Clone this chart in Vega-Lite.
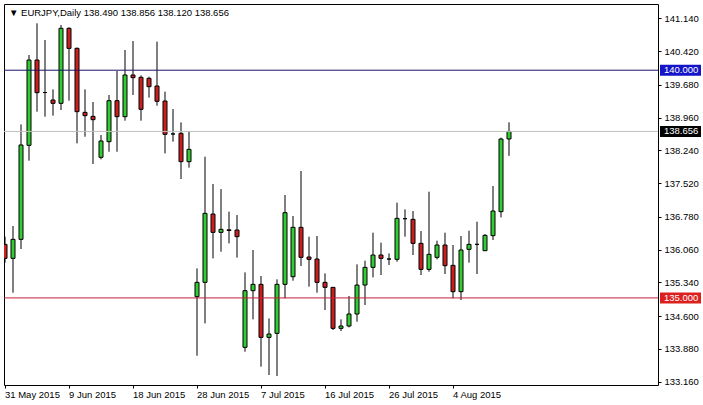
{
  "$schema": "https://vega.github.io/schema/vega-lite/v6.json",
  "width": 654,
  "height": 381,
  "autosize": {"type": "none"},
  "padding": {"left": 4, "top": 4, "right": 45, "bottom": 20},
  "background": "white",
  "config": {
    "view": {"stroke": "black", "strokeWidth": 1},
    "font": "Liberation Sans",
    "axis": {"domain": false, "grid": false, "labelFont": "Liberation Sans", "labelFontSize": 9.5, "labelColor": "black", "tickColor": "black", "tickSize": 3, "labelOverlap": false},
    "axisY": {"labelOverlap": false, "labelBound": false, "labelFlush": false}
  },
  "title": {"text": "▼  EURJPY,Daily  138.490 138.856 138.120 138.656", "anchor": "start", "frame": "group", "offset": -21, "baseline": "alphabetic", "dx": 5, "fontSize": 9.5, "fontWeight": "normal", "color": "black", "font": "Liberation Sans"},
  "datasets": {
    "candles": [
      {"date": "31 May 2015", "open": 136.176, "high": 136.345, "low": 135.774, "close": 135.869},
      {"date": "1 Jun 2015", "open": 135.869, "high": 136.579, "low": 135.115, "close": 136.286},
      {"date": "2 Jun 2015", "open": 136.286, "high": 138.811, "low": 136.074, "close": 138.358},
      {"date": "3 Jun 2015", "open": 138.351, "high": 140.334, "low": 138.014, "close": 140.224},
      {"date": "4 Jun 2015", "open": 140.224, "high": 141.030, "low": 139.090, "close": 139.507},
      {"date": "5 Jun 2015", "open": 139.510, "high": 140.663, "low": 138.980, "close": 139.510},
      {"date": "7 Jun 2015", "open": 139.346, "high": 139.580, "low": 139.002, "close": 139.273},
      {"date": "8 Jun 2015", "open": 139.273, "high": 140.993, "low": 139.126, "close": 140.920},
      {"date": "9 Jun 2015", "open": 140.920, "high": 140.942, "low": 139.331, "close": 140.480},
      {"date": "10 Jun 2015", "open": 140.480, "high": 140.500, "low": 138.394, "close": 139.090},
      {"date": "11 Jun 2015", "open": 139.075, "high": 139.580, "low": 138.540, "close": 139.002},
      {"date": "12 Jun 2015", "open": 138.987, "high": 139.302, "low": 137.940, "close": 138.914},
      {"date": "14 Jun 2015", "open": 138.087, "high": 138.577, "low": 138.043, "close": 138.446},
      {"date": "15 Jun 2015", "open": 138.431, "high": 139.456, "low": 138.211, "close": 139.331},
      {"date": "16 Jun 2015", "open": 139.331, "high": 139.983, "low": 138.211, "close": 138.980},
      {"date": "17 Jun 2015", "open": 138.980, "high": 140.444, "low": 138.892, "close": 139.895},
      {"date": "18 Jun 2015", "open": 139.895, "high": 140.641, "low": 139.456, "close": 139.836},
      {"date": "19 Jun 2015", "open": 139.844, "high": 139.887, "low": 138.892, "close": 139.141},
      {"date": "21 Jun 2015", "open": 139.822, "high": 139.858, "low": 139.397, "close": 139.639},
      {"date": "22 Jun 2015", "open": 139.653, "high": 140.627, "low": 139.221, "close": 139.317},
      {"date": "23 Jun 2015", "open": 139.324, "high": 139.529, "low": 138.174, "close": 138.592},
      {"date": "24 Jun 2015", "open": 138.600, "high": 139.148, "low": 138.431, "close": 138.600},
      {"date": "25 Jun 2015", "open": 138.614, "high": 138.855, "low": 137.611, "close": 137.992},
      {"date": "26 Jun 2015", "open": 137.992, "high": 138.665, "low": 137.860, "close": 138.262},
      {"date": "28 Jun 2015", "open": 135.027, "high": 135.649, "low": 133.731, "close": 135.342},
      {"date": "29 Jun 2015", "open": 135.342, "high": 138.101, "low": 134.441, "close": 136.857},
      {"date": "30 Jun 2015", "open": 136.842, "high": 137.501, "low": 135.869, "close": 136.440},
      {"date": "1 Jul 2015", "open": 136.440, "high": 137.391, "low": 136.015, "close": 136.506},
      {"date": "2 Jul 2015", "open": 136.495, "high": 136.894, "low": 136.198, "close": 136.480},
      {"date": "3 Jul 2015", "open": 136.491, "high": 136.820, "low": 135.884, "close": 136.345},
      {"date": "5 Jul 2015", "open": 133.915, "high": 135.561, "low": 133.819, "close": 135.159},
      {"date": "6 Jul 2015", "open": 135.159, "high": 136.052, "low": 134.529, "close": 135.298},
      {"date": "7 Jul 2015", "open": 135.298, "high": 135.481, "low": 133.490, "close": 134.134},
      {"date": "8 Jul 2015", "open": 134.134, "high": 134.551, "low": 133.307, "close": 134.207},
      {"date": "9 Jul 2015", "open": 134.222, "high": 135.408, "low": 133.285, "close": 135.298},
      {"date": "10 Jul 2015", "open": 135.298, "high": 137.260, "low": 134.990, "close": 136.872},
      {"date": "12 Jul 2015", "open": 135.466, "high": 136.798, "low": 135.378, "close": 136.550},
      {"date": "13 Jul 2015", "open": 136.550, "high": 137.787, "low": 135.700, "close": 135.891},
      {"date": "14 Jul 2015", "open": 135.898, "high": 136.345, "low": 135.247, "close": 135.847},
      {"date": "15 Jul 2015", "open": 135.854, "high": 136.360, "low": 135.115, "close": 135.342},
      {"date": "16 Jul 2015", "open": 135.342, "high": 135.539, "low": 134.734, "close": 135.232},
      {"date": "17 Jul 2015", "open": 135.232, "high": 135.240, "low": 134.295, "close": 134.332},
      {"date": "19 Jul 2015", "open": 134.332, "high": 134.529, "low": 134.273, "close": 134.383},
      {"date": "20 Jul 2015", "open": 134.383, "high": 135.042, "low": 134.354, "close": 134.647},
      {"date": "21 Jul 2015", "open": 134.647, "high": 135.737, "low": 134.478, "close": 135.283},
      {"date": "22 Jul 2015", "open": 135.283, "high": 135.818, "low": 134.844, "close": 135.671},
      {"date": "23 Jul 2015", "open": 135.671, "high": 136.432, "low": 135.451, "close": 135.942},
      {"date": "24 Jul 2015", "open": 135.942, "high": 136.213, "low": 135.503, "close": 135.869},
      {"date": "26 Jul 2015", "open": 135.854, "high": 135.978, "low": 135.722, "close": 135.854},
      {"date": "27 Jul 2015", "open": 135.847, "high": 137.091, "low": 135.796, "close": 136.747},
      {"date": "28 Jul 2015", "open": 136.740, "high": 136.945, "low": 136.345, "close": 136.740},
      {"date": "29 Jul 2015", "open": 136.725, "high": 136.908, "low": 135.942, "close": 136.198},
      {"date": "30 Jul 2015", "open": 136.198, "high": 136.469, "low": 135.503, "close": 135.627},
      {"date": "31 Jul 2015", "open": 135.627, "high": 137.333, "low": 135.576, "close": 135.957},
      {"date": "2 Aug 2015", "open": 135.891, "high": 136.257, "low": 135.847, "close": 136.162},
      {"date": "3 Aug 2015", "open": 136.162, "high": 136.432, "low": 135.525, "close": 135.708},
      {"date": "4 Aug 2015", "open": 135.715, "high": 136.162, "low": 134.990, "close": 135.137},
      {"date": "5 Aug 2015", "open": 135.137, "high": 136.360, "low": 134.954, "close": 136.052},
      {"date": "6 Aug 2015", "open": 136.067, "high": 136.476, "low": 135.774, "close": 136.176},
      {"date": "7 Aug 2015", "open": 136.176, "high": 136.674, "low": 135.525, "close": 136.176},
      {"date": "9 Aug 2015", "open": 136.037, "high": 136.403, "low": 136.030, "close": 136.374},
      {"date": "10 Aug 2015", "open": 136.367, "high": 137.457, "low": 136.271, "close": 136.908},
      {"date": "11 Aug 2015", "open": 136.894, "high": 138.519, "low": 136.769, "close": 138.489},
      {"date": "12 Aug 2015", "open": 138.490, "high": 138.856, "low": 138.120, "close": 138.656}
    ],
    "levels": [
      {"value": 140.0, "label": "140.000", "kind": "level 140"},
      {"value": 138.656, "label": "138.656", "kind": "bid"},
      {"value": 135.0, "label": "135.000", "kind": "level 135"}
    ]
  },
  "layer": [
    {
      "data": {"name": "candles"},
      "mark": {"type": "rule", "color": "black", "strokeWidth": 1, "clip": true},
      "encoding": {
        "x": {"field": "date", "type": "ordinal", "sort": null, "title": null,
              "scale": {"type": "band", "range": [-3, 509], "paddingInner": 0, "paddingOuter": 0},
              "axis": {"values": ["31 May 2015", "9 Jun 2015", "18 Jun 2015", "28 Jun 2015", "7 Jul 2015", "16 Jul 2015", "26 Jul 2015", "4 Aug 2015"],
                       "labelAlign": "left", "labelAngle": 0, "bandPosition": 0.5, "labelPadding": 1, "labelOverlap": false, "labelBound": false}},
        "y": {"field": "low", "type": "quantitative", "title": null,
              "scale": {"domain": [133.088, 141.454], "zero": false, "nice": false},
              "axis": {"orient": "right", "values": [133.16, 133.88, 134.6, 135.34, 136.06, 136.78, 137.52, 138.24, 138.96, 139.68, 140.42, 141.14], "tickCount": 30, "format": ".3f", "labelPadding": 3, "labelOverlap": false, "labelBound": false, "labelFlush": false}},
        "y2": {"field": "high"}
      }
    },
    {
      "data": {"name": "candles"},
      "mark": {"type": "bar", "width": {"band": 0.5}, "stroke": "black", "strokeWidth": 1, "clip": true},
      "encoding": {
        "x": {"field": "date", "type": "ordinal", "sort": null, "title": null},
        "y": {"field": "open", "type": "quantitative", "title": null},
        "y2": {"field": "close"},
        "fill": {"condition": {"test": "datum.close >= datum.open", "value": "#32cd32"}, "value": "#cc2020"}
      }
    },
    {
      "data": {"name": "levels"},
      "mark": {"type": "rule", "strokeWidth": 1},
      "encoding": {
        "y": {"field": "value", "type": "quantitative", "title": null},
        "stroke": {"field": "kind", "type": "nominal", "legend": null,
                   "scale": {"domain": ["level 140", "bid", "level 135"], "range": ["#1c1466", "#c0c0c0", "#c41e3a"]}}
      }
    },
    {
      "data": {"name": "levels"},
      "mark": {"type": "rect", "x": {"expr": "width + 2"}, "x2": {"expr": "width + 43"}, "yOffset": -5.5, "y2Offset": 5.5},
      "encoding": {
        "y": {"field": "value", "type": "quantitative", "title": null},
        "y2": {"field": "value"},
        "fill": {"field": "kind", "type": "nominal", "legend": null,
                 "scale": {"domain": ["level 140", "bid", "level 135"], "range": ["#1414c8", "#000000", "#dc2020"]}}
      }
    },
    {
      "data": {"name": "levels"},
      "mark": {"type": "text", "x": {"expr": "width + 6"}, "align": "left", "baseline": "middle", "color": "white", "fontSize": 9.5, "font": "Liberation Sans"},
      "encoding": {
        "y": {"field": "value", "type": "quantitative", "title": null},
        "text": {"field": "label", "type": "nominal"}
      }
    }
  ]
}
